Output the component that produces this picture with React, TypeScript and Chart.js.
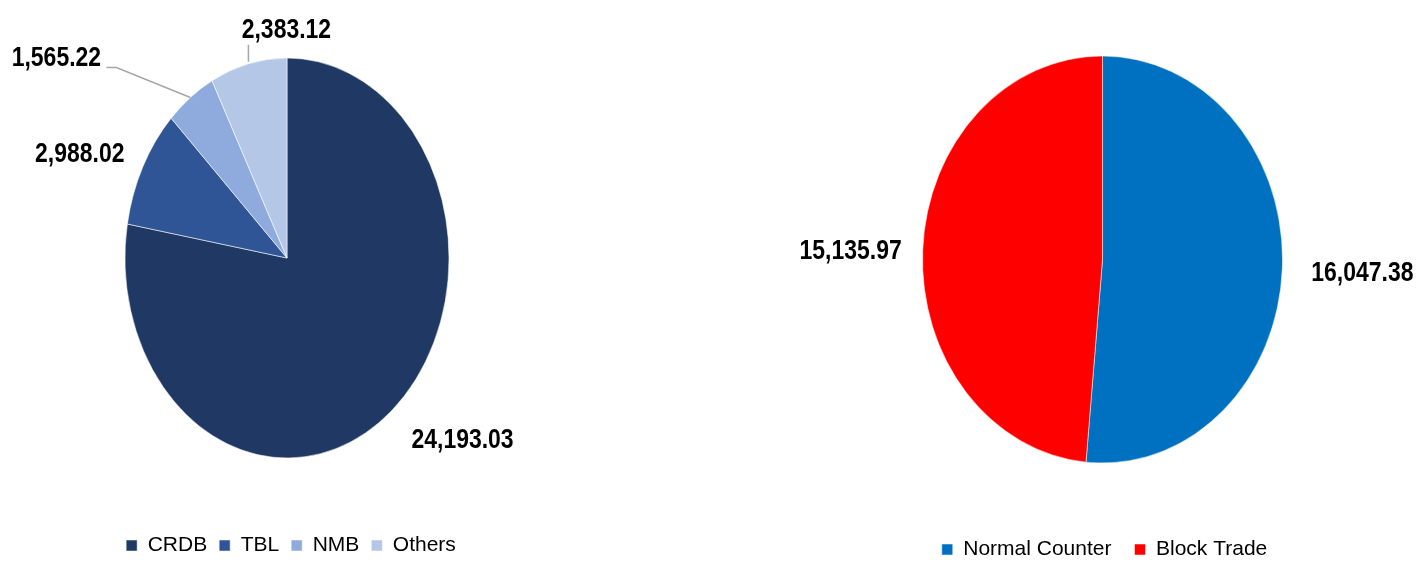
import React, { useEffect, useRef } from 'react';
import { Chart, registerables } from 'chart.js';

Chart.register(...registerables);

// ---- Data ----
const bankLabels = ['CRDB', 'TBL', 'NMB', 'Others'];
const bankValues = [24193.03, 2988.02, 1565.22, 2383.12];
const bankColors = ['#203864', '#2F5597', '#8FAADC', '#B4C7E7'];

const tradeLabels = ['Normal Counter', 'Block Trade'];
const tradeValues = [16047.38, 15135.97];
const tradeColors = ['#0070C0', '#FF0000'];

const fmt = (v: number) =>
  v.toLocaleString('en-US', { minimumFractionDigits: 2, maximumFractionDigits: 2 });

const LABEL_FONT = "bold 28px 'Liberation Sans', Arial, sans-serif";
const NARROW = 0.82; // emulate a condensed (Arial Narrow-like) face

// Draws the pie as an ellipse (vertical stretch) and places data labels.
const ellipsePlugin = {
  id: 'ellipse',
  beforeDatasetsDraw(chart: any, _args: any, opts: any) {
    const arc = chart.getDatasetMeta(0).data[0];
    if (!arc) return;
    const p = arc.getProps(['x', 'y', 'outerRadius'], true);
    const ctx = chart.ctx;
    ctx.save();
    ctx.translate(p.x + (opts.dx || 0), chart.chartArea.top + opts.ry);
    ctx.scale(1, opts.ry / p.outerRadius);
    ctx.translate(-p.x, -p.y);
  },
  afterDatasetsDraw(chart: any, _args: any, opts: any) {
    const ctx = chart.ctx;
    ctx.restore();
    const meta = chart.getDatasetMeta(0);
    const data = chart.data.datasets[0].data as number[];
    meta.data.forEach((el: any, i: number) => {
      const p = el.getProps(['x', 'y', 'startAngle', 'endAngle', 'outerRadius'], true);
      const a = (p.startAngle + p.endAngle) / 2;
      const cos = Math.cos(a);
      const sin = Math.sin(a);
      const cx = p.x + (opts.dx || 0);
      const cy = chart.chartArea.top + opts.ry;
      const ex = cx + p.outerRadius * cos;
      const ey = cy + opts.ry * sin;
      const text = fmt(data[i]);
      ctx.save();
      ctx.font = LABEL_FONT;
      const hw = (ctx.measureText(text).width * NARROW) / 2;
      const hh = 10;
      let lx: number;
      let ly: number;
      const lead = opts.leaders && opts.leaders[i];
      if (lead) {
        lx = ex + lead.dx;
        ly = ey + lead.dy;
        ctx.strokeStyle = '#A6A6A6';
        ctx.lineWidth = 1.5;
        ctx.beginPath();
        lead.path.forEach((pt: number[], k: number) => {
          if (k === 0) ctx.moveTo(ex + pt[0], ey + pt[1]);
          else ctx.lineTo(ex + pt[0], ey + pt[1]);
        });
        ctx.stroke();
      } else {
        lx = ex + cos * opts.gap + Math.sign(cos) * hw + 4;
        ly = ey + sin * opts.gap + sin * hh;
      }
      ctx.translate(lx, ly + 3);
      ctx.scale(NARROW, 1);
      ctx.fillStyle = '#000000';
      ctx.textAlign = 'center';
      ctx.textBaseline = 'middle';
      ctx.fillText(text, 0, 0);
      ctx.restore();
    });
  },
};

type PieProps = {
  labels: string[];
  values: number[];
  colors: string[];
  left: number;
  width: number;
  height: number;
  top: number;
  rx: number;
  ry: number;
  dx: number;
  legendPad: number;
  leaders?: any;
};

function EllipsePie(props: PieProps) {
  const ref = useRef<HTMLCanvasElement>(null);
  useEffect(() => {
    if (!ref.current) return;
    const chart = new Chart(ref.current, {
      type: 'pie',
      data: {
        labels: props.labels,
        datasets: [
          {
            data: props.values,
            backgroundColor: props.colors,
            borderColor: '#FFFFFF',
            borderWidth: 0.5,
          },
        ],
      },
      options: {
        animation: false,
        responsive: false,
        maintainAspectRatio: false,
        radius: props.rx,
        layout: { padding: { top: props.top, left: 0, right: 0, bottom: 0 } },
        plugins: {
          legend: {
            position: 'bottom',
            labels: {
              boxWidth: 11,
              boxHeight: 11,
              padding: props.legendPad,
              color: '#000000',
              font: { family: "'Liberation Sans', Arial, sans-serif", size: 21 },
            },
          },
          tooltip: { enabled: false },
          ellipse: { ry: props.ry, dx: props.dx, gap: 25, leaders: props.leaders },
        },
      } as any,
      plugins: [ellipsePlugin as any],
    });
    return () => chart.destroy();
  }, []);
  return (
    <canvas
      ref={ref}
      width={props.width}
      height={props.height}
      style={{ position: 'absolute', left: props.left, top: 0, width: props.width, height: props.height }}
    />
  );
}

export default function App() {
  const bankLeaders = {
    2: { dx: -134, dy: -42, path: [[0, 0], [-74, -30], [-84, -30]] },
    3: { dx: 38, dy: -36, path: [[0, -2], [0, -19]] },
  };
  return (
    <div
      style={{
        position: 'fixed',
        left: 0,
        top: 0,
        width: 1421,
        height: 568,
        overflow: 'hidden',
        background: '#FFFFFF',
      }}
    >
      <EllipsePie
        labels={bankLabels}
        values={bankValues}
        colors={bankColors}
        left={4}
        width={574}
        height={566}
        top={58}
        rx={162}
        ry={200}
        dx={-4}
        legendPad={12}
        leaders={bankLeaders}
      />
      <EllipsePie
        labels={tradeLabels}
        values={tradeValues}
        colors={tradeColors}
        left={788}
        width={633}
        height={570}
        top={56}
        rx={180}
        ry={203.5}
        dx={-2}
        legendPad={23}
      />
    </div>
  );
}
